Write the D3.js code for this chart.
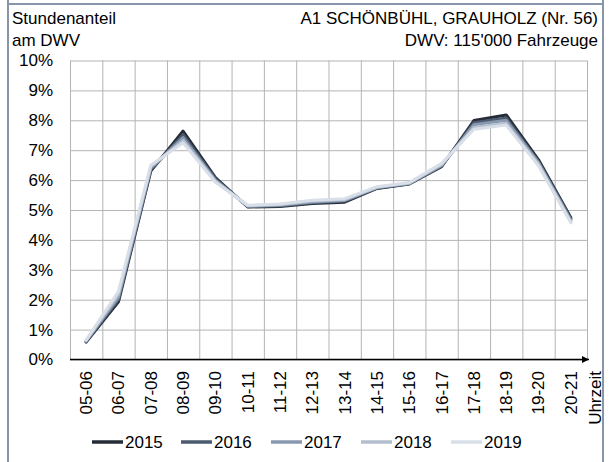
<!DOCTYPE html>
<html>

<head>
    <meta charset="UTF-8" />
    <title>Stundenanteil am DWV</title>
    <style>
        body {
            margin: 0;
            padding: 0;
            background-color: white;
            font-family: 'Liberation Sans', Arial, sans-serif;
        }

        svg text {
            fill: #000;
        }
    </style>
</head>

<body>

    <svg id="chart" width="611" height="462"></svg>

    <script src="https://cdnjs.cloudflare.com/ajax/libs/d3/7.8.5/d3.min.js"></script>

    <script>
        // Stunden (Kategorien der x-Achse)
        const hours = ['05-06', '06-07', '07-08', '08-09', '09-10', '10-11', '11-12', '12-13',
            '13-14', '14-15', '15-16', '16-17', '17-18', '18-19', '19-20', '20-21']

        const years = ['2015', '2016', '2017', '2018', '2019']

        // Stundenanteil am DWV in %
        const v2015 = [0.58, 1.93, 6.30, 7.64, 6.08, 5.10, 5.12, 5.22, 5.26, 5.72, 5.87, 6.45, 7.99, 8.18, 6.68, 4.74]
        const v2016 = [0.60, 2.00, 6.35, 7.52, 6.04, 5.11, 5.14, 5.24, 5.30, 5.73, 5.88, 6.47, 7.92, 8.08, 6.62, 4.70]
        const v2017 = [0.62, 2.08, 6.40, 7.42, 6.00, 5.13, 5.16, 5.27, 5.32, 5.75, 5.89, 6.49, 7.85, 8.00, 6.58, 4.66]
        const v2018 = [0.63, 2.18, 6.45, 7.33, 5.96, 5.14, 5.18, 5.30, 5.35, 5.76, 5.90, 6.52, 7.76, 7.90, 6.53, 4.61]
        const v2019 = [0.65, 2.28, 6.50, 7.25, 5.93, 5.16, 5.20, 5.33, 5.38, 5.78, 5.92, 6.56, 7.70, 7.84, 6.48, 4.57]
        const seriesValues = [v2015, v2016, v2017, v2018, v2019]

        const yTicks = [0, 1, 2, 3, 4, 5, 6, 7, 8, 9, 10]
        const colors = ['#252c37', '#4b5a6e', '#8898ae', '#b3bece', '#d9dfe8']

        const svg = d3.select('#chart')
        const plotLeft = 70, plotRight = 587, plotTop = 60.5, plotBottom = 359.5

        // Rahmen
        svg.append('line').attr('x1', 8).attr('x2', 603).attr('y1', 4).attr('y2', 4)
            .attr('stroke', '#8796ab').attr('stroke-width', 2)
        svg.append('line').attr('x1', 8).attr('x2', 8).attr('y1', 0).attr('y2', 462)
            .attr('stroke', '#8796ab').attr('stroke-width', 2)
        svg.append('line').attr('x1', 603).attr('x2', 603).attr('y1', 0).attr('y2', 462)
            .attr('stroke', '#8796ab').attr('stroke-width', 2)

        // Kopfzeilen
        const fs = '17px'
        svg.append('text').attr('x', 12).attr('y', 24).style('font-size', fs).text('Stundenanteil')
        svg.append('text').attr('x', 12).attr('y', 46).style('font-size', fs).text('am DWV')
        svg.append('text').attr('x', 598).attr('y', 24).attr('text-anchor', 'end').style('font-size', fs)
            .text('A1 SCHÖNBÜHL, GRAUHOLZ (Nr. 56)')
        svg.append('text').attr('x', 598).attr('y', 46).attr('text-anchor', 'end').style('font-size', fs)
            .text("DWV: 115'000 Fahrzeuge")

        const x = d3.scaleBand().domain(hours).range([plotLeft, plotRight]).padding(0)
        const xEdge = d3.scaleLinear().domain([0, hours.length]).range([plotLeft, plotRight])
        const y = d3.scaleLinear().domain([0, 10]).range([plotBottom, plotTop])

        // Gitter
        svg.append('g')
            .attr('transform', `translate(0,${plotBottom})`)
            .call(d3.axisBottom(xEdge).ticks(hours.length).tickSize(-(plotBottom - plotTop)).tickFormat(''))
            .call(g => g.select('.domain').remove())
            .call(g => g.selectAll('line').attr('stroke', '#b4b4b4').attr('stroke-width', 1))

        const yAxis = svg.append('g')
            .attr('transform', `translate(${plotLeft},0)`)
            .call(d3.axisLeft(y).tickValues(yTicks).tickSize(-(plotRight - plotLeft)).tickFormat(d => d + '%').tickPadding(17))
            .call(g => g.select('.domain').remove())
            .call(g => g.selectAll('line').attr('stroke', '#b4b4b4').attr('stroke-width', 1))
        yAxis.selectAll('text').style('font-size', fs).style('font-family', "'Liberation Sans', Arial, sans-serif").attr('fill', '#000')

        // x-Achse mit Pfeil
        svg.append('defs').append('marker')
            .attr('id', 'arrow').attr('viewBox', '0 0 10 10').attr('refX', 10).attr('refY', 5)
            .attr('markerWidth', 8).attr('markerHeight', 7).attr('markerUnits', 'userSpaceOnUse')
            .attr('orient', 'auto')
            .append('path').attr('d', 'M0,0 L10,5 L0,10 z').attr('fill', '#000')
        svg.append('line').attr('x1', plotLeft).attr('x2', plotRight + 2).attr('y1', plotBottom).attr('y2', plotBottom)
            .attr('stroke', '#000').attr('stroke-width', 1.5).attr('marker-end', 'url(#arrow)')

        svg.append('g').selectAll('text')
            .data(hours)
            .join('text')
            .attr('transform', d => `translate(${x(d) + x.bandwidth() / 2},371) rotate(-90)`)
            .attr('dy', '0.35em')
            .attr('text-anchor', 'end')
            .style('font-size', fs)
            .text(d => d)
        svg.append('text')
            .attr('transform', `translate(${plotRight + 8},371) rotate(-90)`)
            .attr('dy', '0.35em')
            .attr('text-anchor', 'end')
            .style('font-size', fs)
            .text('Uhrzeit')

        // Linien
        const line = d3.line()
            .x((d, i) => x(hours[i]) + x.bandwidth() / 2)
            .y(d => y(d))

        svg.append('g').selectAll('path')
            .data(seriesValues)
            .join('path')
            .attr('d', line)
            .attr('fill', 'none')
            .attr('stroke', (d, i) => colors[i])
            .attr('stroke-width', 3)
            .attr('stroke-linejoin', 'round')
            .attr('stroke-linecap', 'round')

        // Legende
        const legendX = [92, 181, 271, 361, 451]
        const legend = svg.append('g').selectAll('g')
            .data(years)
            .join('g')
            .attr('transform', (d, i) => `translate(${legendX[i]},442)`)
        legend.append('line').attr('x1', 0).attr('x2', 31).attr('y1', 0).attr('y2', 0)
            .attr('stroke', (d, i) => colors[i]).attr('stroke-width', 3.5)
        legend.append('text').attr('x', 33).attr('dy', '0.35em').style('font-size', fs).text(d => d)
    </script>
</body>

</html>
